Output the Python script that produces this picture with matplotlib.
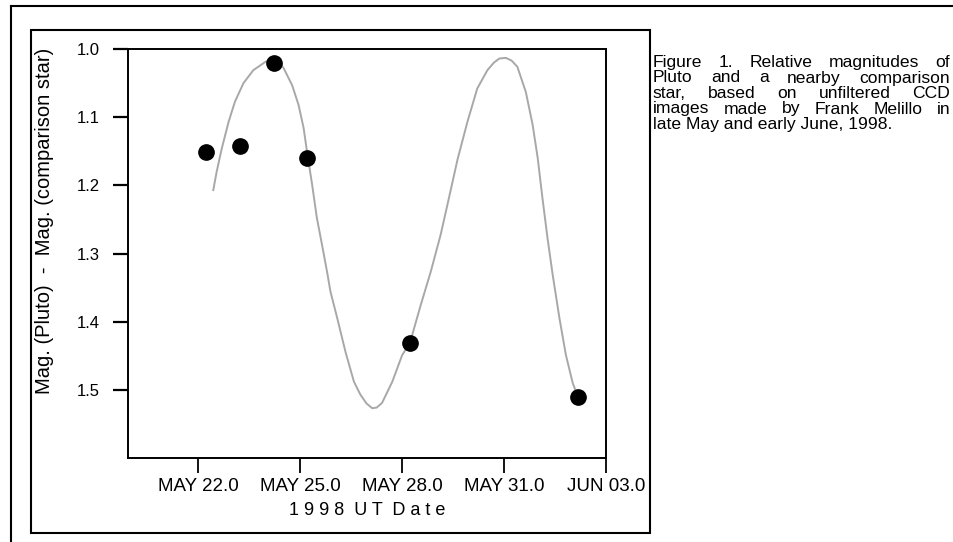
import matplotlib
matplotlib.use('Agg')
import matplotlib.pyplot as plt
from matplotlib.lines import Line2D
from matplotlib.patches import Rectangle

plt.rcParams['font.family'] = ['Liberation Sans', 'DejaVu Sans']

# UT date expressed as day of May 1998 (32.0 = Jun 01.0)
obs_day = [22.23, 23.24, 24.24, 25.21, 28.23, 33.17]
obs_mag = [1.151, 1.142, 1.021, 1.160, 1.431, 1.510]

# fitted light curve
curve_day = [22.44, 22.54, 22.69, 22.89, 23.08, 23.33, 23.62, 23.97, 24.17,
             24.35, 24.51, 24.76, 24.95, 25.10, 25.20, 25.35, 25.49, 25.64,
             25.79, 25.89, 26.09, 26.33, 26.58, 26.77, 26.95, 27.12, 27.25,
             27.41, 27.71, 28.00, 28.23, 28.55, 28.84, 29.13, 29.33, 29.63,
             29.92, 30.21, 30.51, 30.70, 30.86, 31.05, 31.22, 31.39, 31.64,
             31.84, 31.99, 32.13, 32.28, 32.43, 32.63, 32.82, 33.02, 33.15]
curve_mag = [1.207, 1.180, 1.146, 1.107, 1.077, 1.050, 1.031, 1.019, 1.014,
             1.018, 1.028, 1.053, 1.082, 1.116, 1.151, 1.199, 1.248, 1.287,
             1.327, 1.356, 1.395, 1.444, 1.488, 1.507, 1.520, 1.527, 1.526,
             1.519, 1.488, 1.449, 1.431, 1.375, 1.327, 1.273, 1.229, 1.162,
             1.107, 1.058, 1.031, 1.020, 1.014, 1.013, 1.017, 1.026, 1.063,
             1.111, 1.160, 1.219, 1.278, 1.331, 1.395, 1.449, 1.490, 1.507]

x_ticks = [22, 25, 28, 31, 34]
x_labels = ['MAY 22.0', 'MAY 25.0', 'MAY 28.0', 'MAY 31.0', 'JUN 03.0']
y_ticks = [1.0, 1.1, 1.2, 1.3, 1.4, 1.5]

caption_lines = ['Figure 1. Relative magnitudes of',
                 'Pluto and a nearby comparison',
                 'star, based on unfiltered CCD',
                 'images made by Frank Melillo in',
                 'late May and early June, 1998.']

W, H = 954, 542
fig = plt.figure(figsize=(W / 100, H / 100), dpi=100)
ax = fig.add_axes([128 / W, 1 - 458 / H, (606 - 128) / W, (458 - 49) / H])

ax.plot(curve_day, curve_mag, color='#a8a8a8', lw=1.4)
ax.plot(obs_day, obs_mag, 'o', color='black', ms=11)

ax.set_xlim(19.93, 34.0)
ax.set_ylim(1.6, 1.0)
ax.set_xticks(x_ticks)
ax.set_xticklabels(x_labels)
ax.set_yticks(y_ticks)
ax.set_yticklabels(['%.1f' % v for v in y_ticks])
ax.tick_params(axis='x', direction='out', length=11, width=1.3, pad=3.5, labelsize=13.5)
ax.tick_params(axis='y', direction='out', length=11, width=1.6, pad=9, labelsize=12)
for s in ax.spines.values():
    s.set_linewidth(1.4)

ax.set_xlabel('1 9 9 8  U T  D a t e', fontsize=13, labelpad=5)
ax.set_ylabel('Mag. (Pluto)  -  Mag. (comparison star)', fontsize=14.5)
ax.yaxis.set_label_coords(-0.155, 0.58)

# border lines of the scanned page
fig.add_artist(Line2D([11 / W, 1], [1 - 6 / H, 1 - 6 / H], color='black', lw=1.5))
fig.add_artist(Line2D([11 / W, 11 / W], [0, 1 - 6 / H], color='black', lw=1.5))
fig.add_artist(Rectangle((31 / W, 1 - 533 / H), (650 - 31) / W, (533 - 30) / H,
                         transform=fig.transFigure, fill=False, ec='black', lw=1.5))

# caption, justified like the printed page
fig.canvas.draw()
renderer = fig.canvas.get_renderer()
cap_size = 12.6
x0, x1 = 653, 950
for i, line in enumerate(caption_lines):
    yb = 1 - (67 + 15.5 * i) / H
    if i == len(caption_lines) - 1:
        fig.text(x0 / W, yb, line, fontsize=cap_size, va='baseline')
        continue
    words = line.split()
    texts = [fig.text(0, yb, w, fontsize=cap_size, va='baseline') for w in words]
    widths = [t.get_window_extent(renderer).width for t in texts]
    gap = (x1 - x0 - sum(widths)) / (len(words) - 1)
    x = x0
    for t, w in zip(texts, widths):
        t.set_x(x / W)
        x += w + gap

plt.savefig('out.png', dpi=100)
